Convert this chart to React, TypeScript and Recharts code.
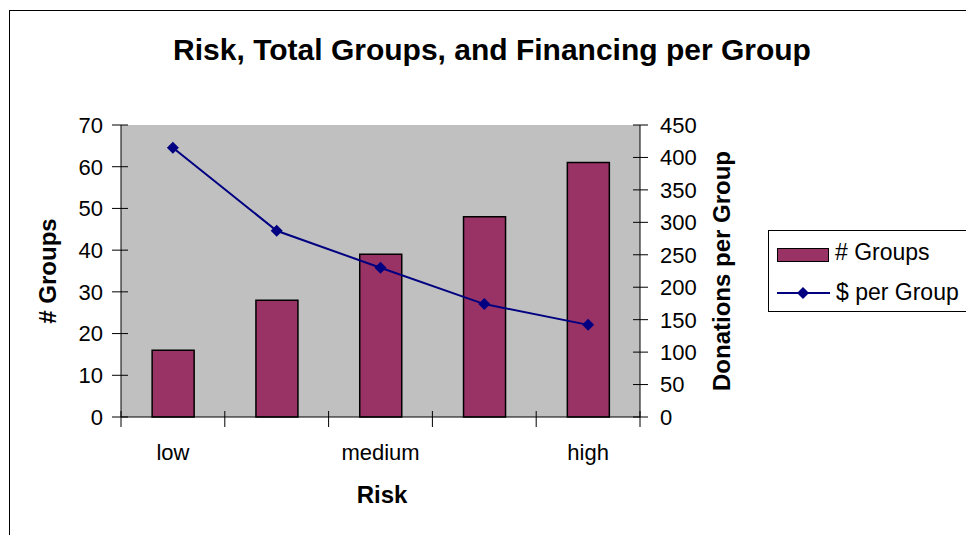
import { Bar, CartesianGrid, ComposedChart, Line, XAxis, YAxis } from "recharts";

const riskLevels = ["r1", "r2", "r3", "r4", "r5"];
const tickLabels = ["low", "", "medium", "", "high"];
const groupCounts = [16, 28, 39, 48, 61];
const dollarsPerGroup = [415, 287, 230, 174, 142];
const leftTicks = [0, 10, 20, 30, 40, 50, 60, 70];
const rightTicks = [0, 50, 100, 150, 200, 250, 300, 350, 400, 450];

const data = riskLevels.map((r, i) => ({
  risk: r,
  groups: groupCounts[i],
  perGroup: dollarsPerGroup[i],
}));

const FONT = "Arial, 'Liberation Sans', sans-serif";
const BAR = "#993366";
const NAVY = "#000080";
const TICK_FS = 22;

function LeftTick({ x, y, payload }: any) {
  return (
    <g>
      <line x1={x - 9} x2={x + 7} y1={y} y2={y} stroke="#000" />
      <text x={x - 18} y={y} dy="0.36em" textAnchor="end" fontSize={TICK_FS} fontFamily={FONT} fill="#000">
        {payload.value}
      </text>
    </g>
  );
}

function RightTick({ x, y, payload }: any) {
  return (
    <g>
      <line x1={x - 7} x2={x + 8} y1={y} y2={y} stroke="#000" />
      <text x={x + 20} y={y} dy="0.36em" textAnchor="start" fontSize={TICK_FS} fontFamily={FONT} fill="#000">
        {payload.value}
      </text>
    </g>
  );
}

function BottomTick({ x, y, payload, index }: any) {
  const half = payload.offset || 0;
  const last = index === riskLevels.length - 1;
  return (
    <g>
      <line x1={x - half} x2={x - half} y1={y - 6} y2={y + 10} stroke="#000" />
      {last && <line x1={x + half} x2={x + half} y1={y - 6} y2={y + 10} stroke="#000" />}
      <text x={x} y={y + 43} textAnchor="middle" fontSize={TICK_FS} fontFamily={FONT} fill="#000">
        {tickLabels[index]}
      </text>
    </g>
  );
}

function Diamond({ cx, cy }: any) {
  if (cx == null || cy == null) return null;
  const r = 6;
  return (
    <path d={`M${cx},${cy - r}L${cx + r},${cy}L${cx},${cy + r}L${cx - r},${cy}Z`} fill={NAVY} />
  );
}

function LegendBox() {
  return (
    <div
      style={{
        position: "absolute",
        left: 768,
        top: 230,
        width: 220,
        height: 82,
        border: "1px solid #000",
        background: "#fff",
        fontFamily: FONT,
        fontSize: 23,
        color: "#000",
        boxSizing: "border-box",
      }}
    >
      <div style={{ position: "absolute", left: 8, top: 17, width: 52, height: 14, background: BAR, border: "1.5px solid #000", boxSizing: "border-box" }} />
      <div style={{ position: "absolute", left: 66, top: 8, lineHeight: "26px", whiteSpace: "nowrap" }}># Groups</div>
      <svg style={{ position: "absolute", left: 8, top: 55 }} width={53} height={14}>
        <line x1={0} x2={53} y1={7} y2={7} stroke={NAVY} strokeWidth={2} />
        <path d="M26,1L32,7L26,13L20,7Z" fill={NAVY} />
      </svg>
      <div style={{ position: "absolute", left: 67, top: 48, lineHeight: "26px", whiteSpace: "nowrap" }}>$ per Group</div>
    </div>
  );
}

const axisTitle = {
  position: "absolute" as const,
  fontWeight: "bold" as const,
  fontSize: 24,
  whiteSpace: "nowrap" as const,
};

export default function App() {
  return (
    <div
      style={{
        position: "fixed",
        left: 0,
        top: 0,
        width: 966,
        height: 535,
        overflow: "hidden",
        background: "#fff",
        fontFamily: FONT,
      }}
    >
      <div
        style={{
          position: "absolute",
          left: 9,
          top: 10,
          width: 1100,
          height: 700,
          border: "1px solid #000",
        }}
      />
      <div
        style={{
          position: "absolute",
          left: 492,
          top: 50,
          transform: "translate(-50%, -50%)",
          fontWeight: "bold",
          fontSize: 30,
          whiteSpace: "nowrap",
        }}
      >
        Risk, Total Groups, and Financing per Group
      </div>
      <div style={{ ...axisTitle, left: 48, top: 271, transform: "translate(-50%, -50%) rotate(-90deg)" }}>
        # Groups
      </div>
      <div style={{ ...axisTitle, left: 722, top: 271, transform: "translate(-50%, -50%) rotate(-90deg)" }}>
        Donations per Group
      </div>
      <div style={{ ...axisTitle, left: 382, top: 495, transform: "translate(-50%, -50%)" }}>Risk</div>
      <div style={{ position: "absolute", left: 0, top: 0 }}>
        <ComposedChart
          width={966}
          height={535}
          data={data}
          barCategoryGap="30%"
          margin={{ top: 125, right: 266, bottom: 78, left: 60 }}
        >
          <CartesianGrid fill="#c0c0c0" horizontal={false} vertical={false} />
          <XAxis
            dataKey="risk"
            height={40}
            axisLine={{ stroke: "#000" }}
            tickLine={false}
            tickSize={0}
            tickMargin={0}
            tick={<BottomTick />}
            interval={0}
          />
          <YAxis
            yAxisId="left"
            orientation="left"
            width={61}
            domain={[0, 70]}
            ticks={leftTicks}
            interval={0}
            axisLine={{ stroke: "#000" }}
            tickLine={false}
            tickSize={0}
            tickMargin={0}
            tick={<LeftTick />}
          />
          <YAxis
            yAxisId="right"
            orientation="right"
            width={60}
            domain={[0, 450]}
            ticks={rightTicks}
            interval={0}
            axisLine={{ stroke: "#000" }}
            tickLine={false}
            tickSize={0}
            tickMargin={0}
            tick={<RightTick />}
          />
          <Bar
            yAxisId="left"
            dataKey="groups"
            name="# Groups"
            fill={BAR}
            stroke="#000"
            strokeWidth={1.5}
            isAnimationActive={false}
          />
          <Line
            yAxisId="right"
            dataKey="perGroup"
            name="$ per Group"
            type="linear"
            stroke={NAVY}
            strokeWidth={2}
            dot={<Diamond />}
            activeDot={false}
            isAnimationActive={false}
          />
        </ComposedChart>
      </div>
      <LegendBox />
    </div>
  );
}
